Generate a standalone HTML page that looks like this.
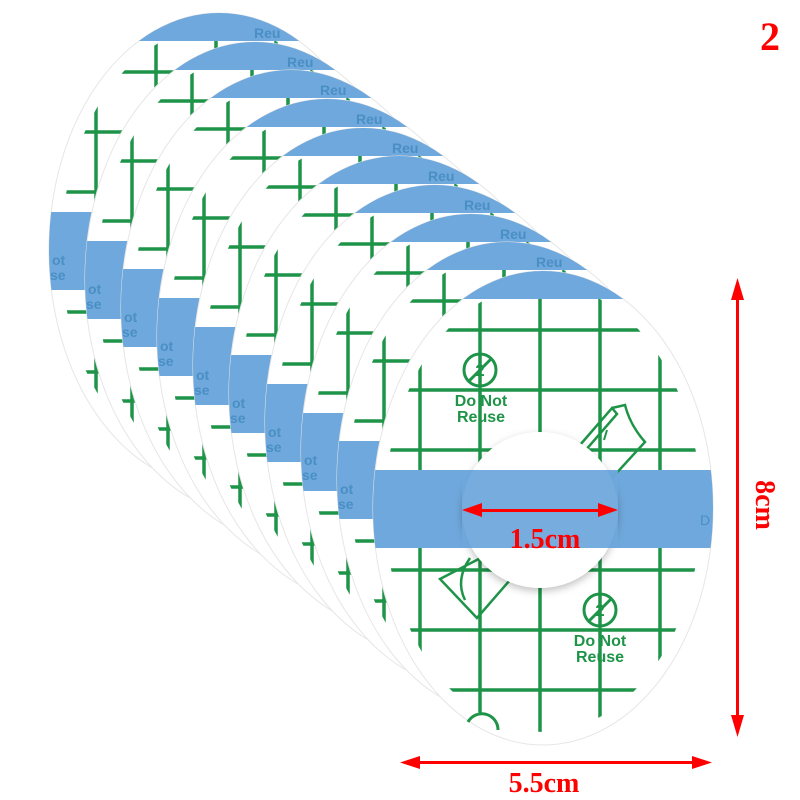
<!DOCTYPE html>
<html><head><meta charset="utf-8"><style>
html,body{margin:0;padding:0;background:#fff;width:800px;height:800px;overflow:hidden}
svg{display:block}
</style></head><body>
<svg width="800" height="800" viewBox="0 0 800 800" xmlns="http://www.w3.org/2000/svg">
<defs>
  <clipPath id="outer"><ellipse cx="0" cy="0" rx="170" ry="237"/></clipPath>
  <clipPath id="inner"><ellipse cx="0" cy="0" rx="158" ry="224"/></clipPath>
  <filter id="sh" x="-30%" y="-30%" width="160%" height="160%"><feDropShadow dx="0" dy="3" stdDeviation="4" flood-color="#000" flood-opacity="0.25"/></filter>
  <g id="patch">
    <ellipse cx="0" cy="0" rx="170" ry="237" fill="#fff" stroke="#e6e6e6" stroke-width="1"/>
    <g clip-path="url(#inner)" stroke="#1e9448" stroke-width="3.5">
      <line x1="-123" y1="-240" x2="-123" y2="240"/>
      <line x1="-63" y1="-240" x2="-63" y2="240"/>
      <line x1="-3" y1="-240" x2="-3" y2="240"/>
      <line x1="57" y1="-240" x2="57" y2="240"/>
      <line x1="117" y1="-240" x2="117" y2="240"/>
      <line x1="-180" y1="-178" x2="180" y2="-178"/>
      <line x1="-180" y1="-118" x2="180" y2="-118"/>
      <line x1="-180" y1="-58" x2="180" y2="-58"/>
      <line x1="-180" y1="2" x2="180" y2="2"/>
      <line x1="-180" y1="62" x2="180" y2="62"/>
      <line x1="-180" y1="122" x2="180" y2="122"/>
      <line x1="-180" y1="182" x2="180" y2="182"/>
    </g>
    <g clip-path="url(#outer)">
      <rect x="-180" y="-240" width="360" height="31" fill="#6fa8dc"/>
      <rect x="-180" y="-38" width="360" height="78" fill="#6fa8dc"/>
    </g>
  </g>
</defs>

<use href="#patch" transform="translate(219,250)"/>
<use href="#patch" transform="translate(255,279)"/>
<use href="#patch" transform="translate(291,307)"/>
<use href="#patch" transform="translate(327,336)"/>
<use href="#patch" transform="translate(363,365)"/>
<use href="#patch" transform="translate(399,393)"/>
<use href="#patch" transform="translate(435,422)"/>
<use href="#patch" transform="translate(471,451)"/>
<use href="#patch" transform="translate(507,479)"/>

<g font-family="Liberation Sans, sans-serif" font-weight="bold" font-size="14" fill="#4a8fc4">
  <text x="254" y="38">Reu</text><text x="287" y="67">Reu</text><text x="320" y="95">Reu</text>
  <text x="356" y="124">Reu</text><text x="392" y="153">Reu</text><text x="428" y="181">Reu</text>
  <text x="464" y="210">Reu</text><text x="500" y="239">Reu</text><text x="536" y="267">Reu</text>
  <text x="52" y="265">ot</text><text x="50" y="280">se</text>
  <text x="88" y="294">ot</text><text x="86" y="309">se</text>
  <text x="124" y="322">ot</text><text x="122" y="337">se</text>
  <text x="160" y="351">ot</text><text x="158" y="366">se</text>
  <text x="196" y="380">ot</text><text x="194" y="395">se</text>
  <text x="232" y="408">ot</text><text x="230" y="423">se</text>
  <text x="268" y="437">ot</text><text x="266" y="452">se</text>
  <text x="304" y="465">ot</text><text x="302" y="480">se</text>
  <text x="340" y="494">ot</text><text x="338" y="509">se</text>
</g>

<use href="#patch" transform="translate(543,508)"/>
<g stroke="#1e9448" stroke-width="3" fill="none">
  <circle cx="480" cy="370" r="16"/><line x1="469" y1="381" x2="491" y2="359"/>
  <circle cx="600" cy="610" r="16"/><line x1="589" y1="621" x2="611" y2="599"/>
  <path d="M468 722 a16 16 0 0 1 30 8"/>
  <path d="M580 445 L612 408 L617 414 L585 451 Z" stroke-width="2.5"/>
  <path d="M612 408 L625 405 Q630 425 645 442 L612 478" stroke-width="2.5"/>
  <line x1="604" y1="440" x2="607" y2="430" stroke-width="2"/>
  <path d="M500 548 L440 579 L477 618 L510 580" stroke-width="2.5"/>
  <path d="M470 558 Q455 580 465 600" stroke-width="2.5"/>
</g>
<g font-family="Liberation Sans, sans-serif" font-weight="bold" fill="#1e9448" font-size="17" text-anchor="middle">
  <text x="480" y="376">2</text><text x="600" y="616">2</text>
</g>
<circle cx="540" cy="510" r="78" fill="#fff" filter="url(#sh)"/>
<rect x="462" y="470" width="156" height="78" fill="#6fa8dc" opacity="0.95"/>
<g font-family="Liberation Sans, sans-serif" font-weight="bold" fill="#1e9448" font-size="16" text-anchor="middle">
  <text x="481" y="406">Do Not</text><text x="481" y="422">Reuse</text>
  <text x="600" y="646">Do Not</text><text x="600" y="662">Reuse</text>
</g>
<text x="700" y="525" font-family="Liberation Sans, sans-serif" font-size="14" fill="#4a8fc4">D</text>

<g fill="#f00" stroke="none">
  <rect x="475" y="509" width="130" height="3"/>
  <polygon points="462,510 482,503 482,517"/>
  <polygon points="618,510 598,503 598,517"/>
  <rect x="736" y="295" width="3" height="425"/>
  <polygon points="737.5,278 731,300 744,300"/>
  <polygon points="737.5,737 731,715 744,715"/>
  <rect x="415" y="761" width="290" height="3"/>
  <polygon points="400,762.5 420,756 420,769"/>
  <polygon points="712,762.5 692,756 692,769"/>
</g>
<g font-family="Liberation Serif, serif" font-weight="bold" fill="#f00">
  <text x="545" y="548" font-size="28" text-anchor="middle">1.5cm</text>
  <text x="544" y="792" font-size="28" text-anchor="middle">5.5cm</text>
  <text x="770" y="50" font-size="40" text-anchor="middle">2</text>
  <text transform="translate(756,505) rotate(90)" font-size="28" text-anchor="middle">8cm</text>
</g>
</svg>
</body></html>
